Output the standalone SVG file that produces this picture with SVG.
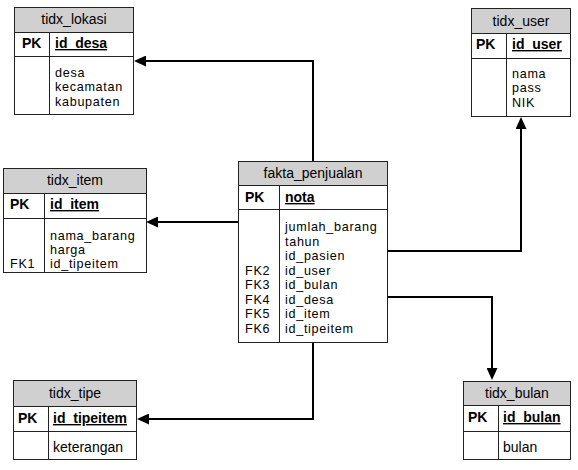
<svg xmlns="http://www.w3.org/2000/svg" width="578" height="470" viewBox="0 0 578 470">
<defs>
<style>
.box{fill:#fff;stroke:#222;stroke-width:1}
.hdr{fill:#d0d0d0;stroke:#222;stroke-width:1}
.ln{stroke:#222;stroke-width:1}
text{font-family:"Liberation Sans",Arial,sans-serif;font-size:14px;fill:#000}
.t{text-anchor:middle}
.b{font-weight:bold}
.u{font-weight:bold;text-decoration:underline}
.f{font-size:12.6px;letter-spacing:0.7px}
.con{fill:none;stroke:#000;stroke-width:2}
</style>
<marker id="arr" markerUnits="userSpaceOnUse" markerWidth="12" markerHeight="11" viewBox="0 0 12 11" refX="0" refY="5.5" orient="auto">
<path d="M0,0 L12,5.5 L0,11 z" fill="#000"/>
</marker>
</defs>
<rect width="578" height="470" fill="#fff"/>

<g id="connectors">
<path class="con" d="M313,161 V61 H146" marker-end="url(#arr)"/>
<path class="con" d="M238,222 H158" marker-end="url(#arr)"/>
<path class="con" d="M387,251 H521 V129" marker-end="url(#arr)"/>
<path class="con" d="M387,297 H492 V368" marker-end="url(#arr)"/>
<path class="con" d="M313,342 V419 H149" marker-end="url(#arr)"/>
</g>

<g id="tidx_lokasi">
<rect class="box" x="14.5" y="7.5" width="119" height="107"/>
<rect class="hdr" x="14.5" y="7.5" width="119" height="25"/>
<line class="ln" x1="14.5" y1="56.5" x2="133.5" y2="56.5"/>
<line class="ln" x1="49.5" y1="32.5" x2="49.5" y2="114.5"/>
<text class="t" x="74" y="24">tidx_lokasi</text>
<text class="b" x="22" y="48">PK</text>
<text class="u" x="55" y="48">id_desa</text>
<text class="f" x="55" y="77"><tspan x="55">desa</tspan><tspan x="55" dy="14.3">kecamatan</tspan><tspan x="55" dy="14.3">kabupaten</tspan></text>
</g>

<g id="tidx_user">
<rect class="box" x="471.5" y="8.5" width="99" height="108"/>
<rect class="hdr" x="471.5" y="8.5" width="99" height="25"/>
<line class="ln" x1="471.5" y1="58.5" x2="570.5" y2="58.5"/>
<line class="ln" x1="506.5" y1="33.5" x2="506.5" y2="116.5"/>
<text class="t" x="521" y="26">tidx_user</text>
<text class="b" x="476" y="49">PK</text>
<text class="u" x="512" y="49">id_user</text>
<text class="f" x="512" y="78"><tspan x="512">nama</tspan><tspan x="512" dy="14.3">pass</tspan><tspan x="512" dy="14.3">NIK</tspan></text>
</g>

<g id="tidx_item">
<rect class="box" x="3.5" y="168.5" width="143" height="104"/>
<rect class="hdr" x="3.5" y="168.5" width="143" height="25"/>
<line class="ln" x1="3.5" y1="218.5" x2="146.5" y2="218.5"/>
<line class="ln" x1="44.5" y1="193.5" x2="44.5" y2="272.5"/>
<text class="t" x="75" y="185">tidx_item</text>
<text class="b" x="10" y="209">PK</text>
<text class="u" x="50" y="209">id_item</text>
<text class="f" x="50" y="239.5"><tspan x="50">nama_barang</tspan><tspan x="50" dy="14.3">harga</tspan><tspan x="50" dy="14.3">id_tipeitem</tspan></text>
<text class="f" x="10" y="268.1">FK1</text>
</g>

<g id="fakta_penjualan">
<rect class="box" x="238.5" y="161.5" width="149" height="181"/>
<rect class="hdr" x="238.5" y="161.5" width="149" height="24"/>
<line class="ln" x1="238.5" y1="209.5" x2="387.5" y2="209.5"/>
<line class="ln" x1="279.5" y1="185.5" x2="279.5" y2="342.5"/>
<text class="t" x="313" y="178">fakta_penjualan</text>
<text class="b" x="245" y="202">PK</text>
<text class="u" x="285" y="202">nota</text>
<text class="f" x="285" y="231"><tspan x="285">jumlah_barang</tspan><tspan x="285" dy="14.5">tahun</tspan><tspan x="285" dy="14.5">id_pasien</tspan><tspan x="285" dy="14.5">id_user</tspan><tspan x="285" dy="14.5">id_bulan</tspan><tspan x="285" dy="14.5">id_desa</tspan><tspan x="285" dy="14.5">id_item</tspan><tspan x="285" dy="14.5">id_tipeitem</tspan></text>
<text class="f" x="245" y="274.5"><tspan x="245">FK2</tspan><tspan x="245" dy="14.5">FK3</tspan><tspan x="245" dy="14.5">FK4</tspan><tspan x="245" dy="14.5">FK5</tspan><tspan x="245" dy="14.5">FK6</tspan></text>
</g>

<g id="tidx_tipe">
<rect class="box" x="13.5" y="380.5" width="123" height="79"/>
<rect class="hdr" x="13.5" y="380.5" width="123" height="26"/>
<line class="ln" x1="13.5" y1="431.5" x2="136.5" y2="431.5"/>
<line class="ln" x1="48.5" y1="406.5" x2="48.5" y2="459.5"/>
<text class="t" x="75" y="398">tidx_tipe</text>
<text class="b" x="18" y="423">PK</text>
<text class="u" x="53" y="423">id_tipeitem</text>
<text x="53" y="452">keterangan</text>
</g>

<g id="tidx_bulan">
<rect class="box" x="463.5" y="381.5" width="107" height="78"/>
<rect class="hdr" x="463.5" y="381.5" width="107" height="24"/>
<line class="ln" x1="463.5" y1="431.5" x2="570.5" y2="431.5"/>
<line class="ln" x1="498.5" y1="405.5" x2="498.5" y2="459.5"/>
<text class="t" x="517" y="398">tidx_bulan</text>
<text class="b" x="468" y="422">PK</text>
<text class="u" x="503" y="422">id_bulan</text>
<text x="503" y="452">bulan</text>
</g>
</svg>
